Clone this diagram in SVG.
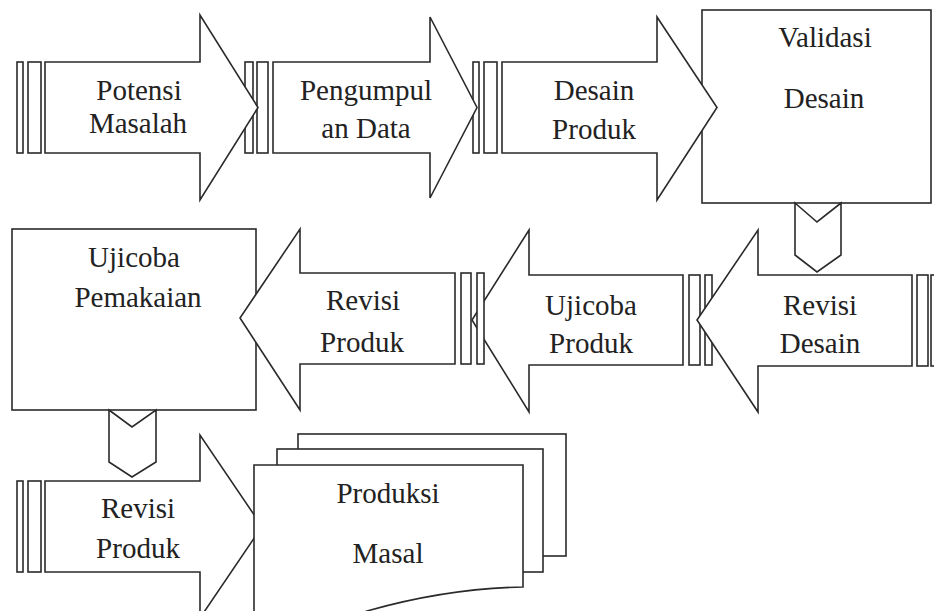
<svg xmlns="http://www.w3.org/2000/svg" width="934" height="611" viewBox="0 0 934 611">
<style>
.s{fill:#fff;stroke:#2a2a2a;stroke-width:1.6;stroke-linejoin:miter}
text{font-size:29px;fill:#222;text-anchor:middle}
</style>
<rect width="934" height="611" fill="#fff"/>
<g font-family="Liberation Serif, serif">
<g id="validasi-desain">
<rect class="s" x="702" y="10" width="229" height="193"/>
<text x="825" y="47">Validasi</text>
<text x="824" y="108">Desain</text>
</g>
<g id="desain-produk">
<rect class="s" x="473" y="62" width="6" height="91"/>
<rect class="s" x="484" y="62" width="13" height="91"/>
<polygon class="s" points="502,62 657,62 657,17 717,107.5 657,200 657,153 502,153"/>
<text x="594" y="100">Desain</text>
<text x="594" y="139">Produk</text>
</g>
<g id="pengumpulan-data">
<rect class="s" x="245" y="62" width="8" height="91"/>
<rect class="s" x="257" y="62" width="11" height="91"/>
<polygon class="s" points="273,62 430,62 430,17 477,107.5 430,198 430,153 273,153"/>
<text x="366" y="100">Pengumpul</text>
<text x="366" y="138">an Data</text>
</g>
<g id="potensi-masalah">
<rect class="s" x="17" y="62" width="6" height="91"/>
<rect class="s" x="28" y="62" width="13" height="91"/>
<polygon class="s" points="45,62 200,62 200,15 258,107.5 200,200 200,153 45,153"/>
<text x="139" y="100">Potensi</text>
<text x="138" y="133">Masalah</text>
</g>
<g id="ujicoba-pemakaian">
<rect class="s" x="12" y="229" width="244" height="181"/>
<text x="134" y="267">Ujicoba</text>
<text x="138" y="307">Pemakaian</text>
</g>
<g id="ujicoba-produk">
<polygon class="s" points="683,275 529,275 529,230 472,320 529,412 529,365 683,365"/>
<rect class="s" x="689" y="275" width="11" height="90"/>
<rect class="s" x="705" y="275" width="7" height="90"/>
<text x="591" y="315">Ujicoba</text>
<text x="591" y="353">Produk</text>
</g>
<g id="revisi-produk-1">
<polygon class="s" points="455,273 300,273 300,229 240,318 300,410 300,364 455,364"/>
<rect class="s" x="461" y="273" width="10" height="91"/>
<rect class="s" x="477" y="273" width="7" height="91"/>
<text x="363" y="310">Revisi</text>
<text x="362" y="352">Produk</text>
</g>
<g id="revisi-desain">
<polygon class="s" points="912,275 758,275 758,230 697,320 758,412 758,366 912,366"/>
<rect class="s" x="917" y="275" width="11" height="91"/>
<rect class="s" x="931" y="275" width="7" height="91"/>
<text x="820" y="315">Revisi</text>
<text x="820" y="353">Desain</text>
</g>
<g id="revisi-produk-2">
<rect class="s" x="17" y="481" width="6" height="91"/>
<rect class="s" x="28" y="481" width="13" height="91"/>
<polygon class="s" points="45,481 200,481 200,435 262,526.5 200,618 200,572 45,572"/>
<text x="138" y="518">Revisi</text>
<text x="138" y="558">Produk</text>
</g>
<g id="produksi-masal">
<rect class="s" x="298" y="434" width="268" height="122"/>
<rect class="s" x="277" y="449" width="266" height="123"/>
<path class="s" d="M254,465 H523 V587 C470,588 420,596 367,611 L330,625 L254,625 Z"/>
<text x="388" y="503">Produksi</text>
<text x="388" y="563">Masal</text>
</g>
</g>
<g id="connectors">
<polygon class="s" points="795,203 817,222 841,203 841,255 817,272 795,255"/>
<polygon class="s" points="109,410 132,427 156,410 156,462 132,477 109,462"/>
</g>
</svg>
